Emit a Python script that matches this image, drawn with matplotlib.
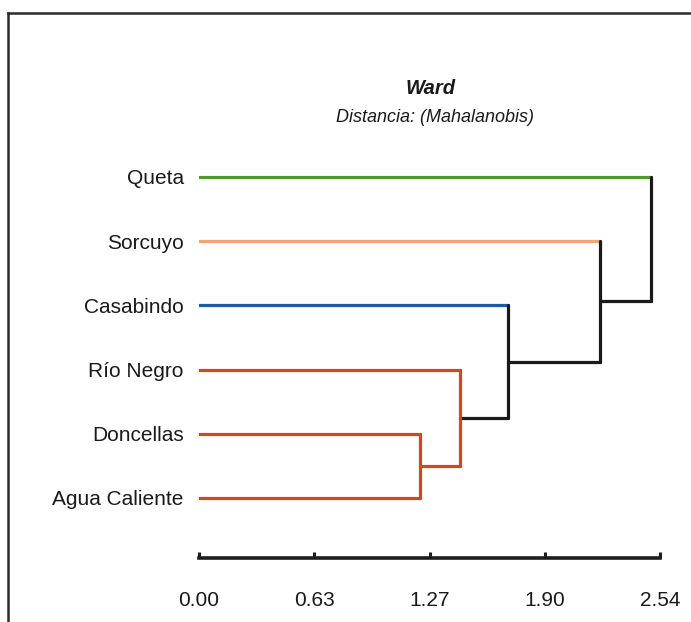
import matplotlib
matplotlib.use("Agg")
import matplotlib.pyplot as plt
from matplotlib.lines import Line2D

# Leaves, top to bottom
labels = ["Queta", "Sorcuyo", "Casabindo", "Río Negro", "Doncellas", "Agua Caliente"]
leaf_colors = ["#4f9a2f", "#f4a27a", "#1f5aa6", "#cc4a1c", "#cc4a1c", "#cc4a1c"]

# Agglomeration steps (Ward): node ids 0-5 are leaves, 6+ are merges in order
merge_a = [4, 3, 2, 1, 0]
merge_b = [5, 6, 7, 8, 9]
merge_height = [1.22, 1.44, 1.70, 2.21, 2.49]
merge_colors = ["#cc4a1c", "#cc4a1c", "#1a1a1a", "#1a1a1a", "#1a1a1a"]

tick_values = [0.0, 0.635, 1.27, 1.905, 2.54]
tick_labels = ["0.00", "0.63", "1.27", "1.90", "2.54"]

title = "Ward"
subtitle = "Distancia: (Mahalanobis)"

FONT = "Liberation Sans"
W, H = 691, 622
fig = plt.figure(figsize=(W / 100, H / 100), dpi=100)

ax = fig.add_axes([199 / W, (H - 558) / H, 461 / W, (558 - 150) / H])
ax.set_xlim(tick_values[0], tick_values[-1])
ax.set_ylim(5.935, -0.42)

lw = 2.3
pos_y = list(range(len(labels)))
pos_x = [0.0] * len(labels)

for i, (a, b, h, c) in enumerate(zip(merge_a, merge_b, merge_height, merge_colors)):
    for child in (a, b):
        hc = leaf_colors[child] if child < len(labels) else c
        ax.plot([pos_x[child], h], [pos_y[child], pos_y[child]], color=hc, lw=lw,
                solid_capstyle="round", zorder=2)
    ax.plot([h, h], [pos_y[a], pos_y[b]], color=c, lw=lw, solid_capstyle="round", zorder=3)
    pos_y.append((pos_y[a] + pos_y[b]) / 2)
    pos_x.append(h)

for s in ("top", "right", "left"):
    ax.spines[s].set_visible(False)
ax.spines["bottom"].set_linewidth(2.6)
ax.spines["bottom"].set_color("#1e1e1e")
ax.spines["bottom"].set_capstyle("projecting")

ax.set_xticks(tick_values)
ax.set_xticklabels(tick_labels, fontfamily=FONT, fontsize=15, color="#1a1a1a")
ax.tick_params(axis="x", direction="in", length=4.5, width=2.2, color="#1e1e1e", pad=24)

ax.set_yticks(range(len(labels)))
ax.set_yticklabels(labels, fontfamily=FONT, fontsize=15, color="#1a1a1a")
ax.tick_params(axis="y", length=0, pad=11)
ax.set_facecolor("none")

fig.text(431 / W, 1 - 89 / H, title, ha="center", va="center", fontfamily=FONT,
         fontsize=14.5, fontweight="bold", fontstyle="italic", color="#1a1a1a")
fig.text(435 / W, 1 - 118 / H, subtitle, ha="center", va="center", fontfamily=FONT,
         fontsize=13, fontstyle="italic", color="#1a1a1a")

# Outer frame (left and top edges)
fig.add_artist(Line2D([8 / W, 8 / W], [1 - 13 / H, 0], transform=fig.transFigure,
                      color="#2a2a2a", lw=1.8))
fig.add_artist(Line2D([8 / W, 1], [1 - 13 / H, 1 - 13 / H], transform=fig.transFigure,
                      color="#2a2a2a", lw=1.8))

fig.savefig("out.png", dpi=100)
